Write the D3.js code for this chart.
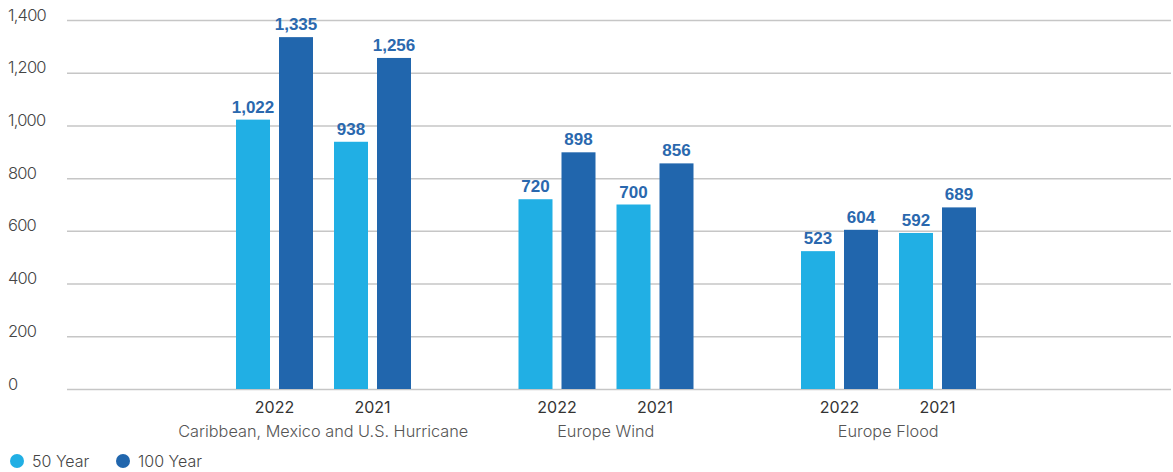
<!DOCTYPE html>
<html><head><meta charset="utf-8">
<script src="https://cdn.jsdelivr.net/npm/d3@7"></script>
<style>body{margin:0;background:#fff}svg{display:block}</style>
</head><body><svg id="c" width="1173" height="472"></svg>
<script>
const groups = ["Caribbean, Mexico and U.S. Hurricane", "Europe Wind", "Europe Flood"];
const years = ["2022", "2021"];
const seriesNames = ["50 Year", "100 Year"];
const fifty = [[1022, 938], [720, 700], [523, 592]];
const hundred = [[1335, 1256], [898, 856], [604, 689]];
const yTicks = [0, 200, 400, 600, 800, 1000, 1200, 1400];
const colors = ["#21afe4", "#2166ad"];

const svg = d3.select("#c");
const gridLeft = 67, gridRight = 1171;
const y = d3.scaleLinear().domain([0, 1400]).range([389, 20]);
const x0 = d3.scaleBand().domain(groups).range([182, 1029.5]);
const x1 = d3.scaleBand().domain(years).range([43.5, 239.5]);
const x2 = d3.scaleBand().domain(seriesNames).range([10.5, 87.5]).paddingInner(9/43).paddingOuter(0);

// grid
const yAxis = d3.axisLeft(y).tickValues(yTicks).tickSize(-(gridRight - gridLeft)).tickFormat(d3.format(","));
const ga = svg.append("g").attr("transform", `translate(${gridLeft},0)`).call(yAxis);
ga.select(".domain").remove();
ga.selectAll(".tick line").attr("stroke", "#c6c6c6").attr("stroke-width", 1.5);
ga.selectAll(".tick text").attr("x", 8 - gridLeft).attr("dy", 0).attr("y", 0)
  .attr("text-anchor", "start").attr("fill", "#454545")
  .style("font-family", "Inter, 'Open Sans', sans-serif").style("font-weight", 300).style("font-size", "16.5px")
  .style("letter-spacing", "-0.8px");

const data = [];
groups.forEach((g, gi) => years.forEach((yr, yi) => {
  data.push({g, yr, s: seriesNames[0], v: fifty[gi][yi], c: 0});
  data.push({g, yr, s: seriesNames[1], v: hundred[gi][yi], c: 1});
}));
const px = d => x0(d.g) + x1(d.yr) + x2(d.s);

svg.append("g").selectAll("rect").data(data).join("rect")
  .attr("x", px).attr("width", x2.bandwidth())
  .attr("y", d => y(d.v)).attr("height", d => y(0) - y(d.v))
  .attr("fill", d => colors[d.c]);

svg.append("g").selectAll("text").data(data).join("text")
  .attr("x", d => px(d) + x2.bandwidth() / 2).attr("y", d => y(d.v) - 7)
  .attr("text-anchor", "middle").attr("fill", "#2a68ae")
  .style("font-family", "'Liberation Sans', Arial, sans-serif").style("font-weight", 700).style("font-size", "17px")
  .text(d => d3.format(",")(d.v));

// x labels
const yearLbl = [];
groups.forEach(g => years.forEach(yr => yearLbl.push({g, yr})));
svg.append("g").selectAll("text").data(yearLbl).join("text")
  .attr("x", d => x0(d.g) + x1(d.yr) + x1.bandwidth() / 2).attr("y", 413)
  .attr("text-anchor", "middle").attr("fill", "#333")
  .style("font-family", "Inter, 'Open Sans', sans-serif").style("font-weight", 400).style("font-size", "16px")
  .text(d => d.yr);
svg.append("g").selectAll("text").data(groups).join("text")
  .attr("x", d => x0(d) + x0.bandwidth() / 2).attr("y", 437)
  .attr("text-anchor", "middle").attr("fill", "#555")
  .style("font-family", "Inter, 'Open Sans', sans-serif").style("font-weight", 300).style("font-size", "16.3px")
  .text(d => d);

// legend
const legX = [17, 123];
const lg = svg.append("g").selectAll("g").data(seriesNames).join("g")
  .attr("transform", (d, i) => `translate(${legX[i]},461)`);
lg.append("circle").attr("r", 7).attr("fill", (d, i) => colors[i]);
lg.append("text").attr("x", 15).attr("y", 6).attr("fill", "#454545")
  .style("font-family", "Inter, 'Open Sans', sans-serif").style("font-weight", 300).style("font-size", "16px")
  .text(d => d);
</script></body></html>
